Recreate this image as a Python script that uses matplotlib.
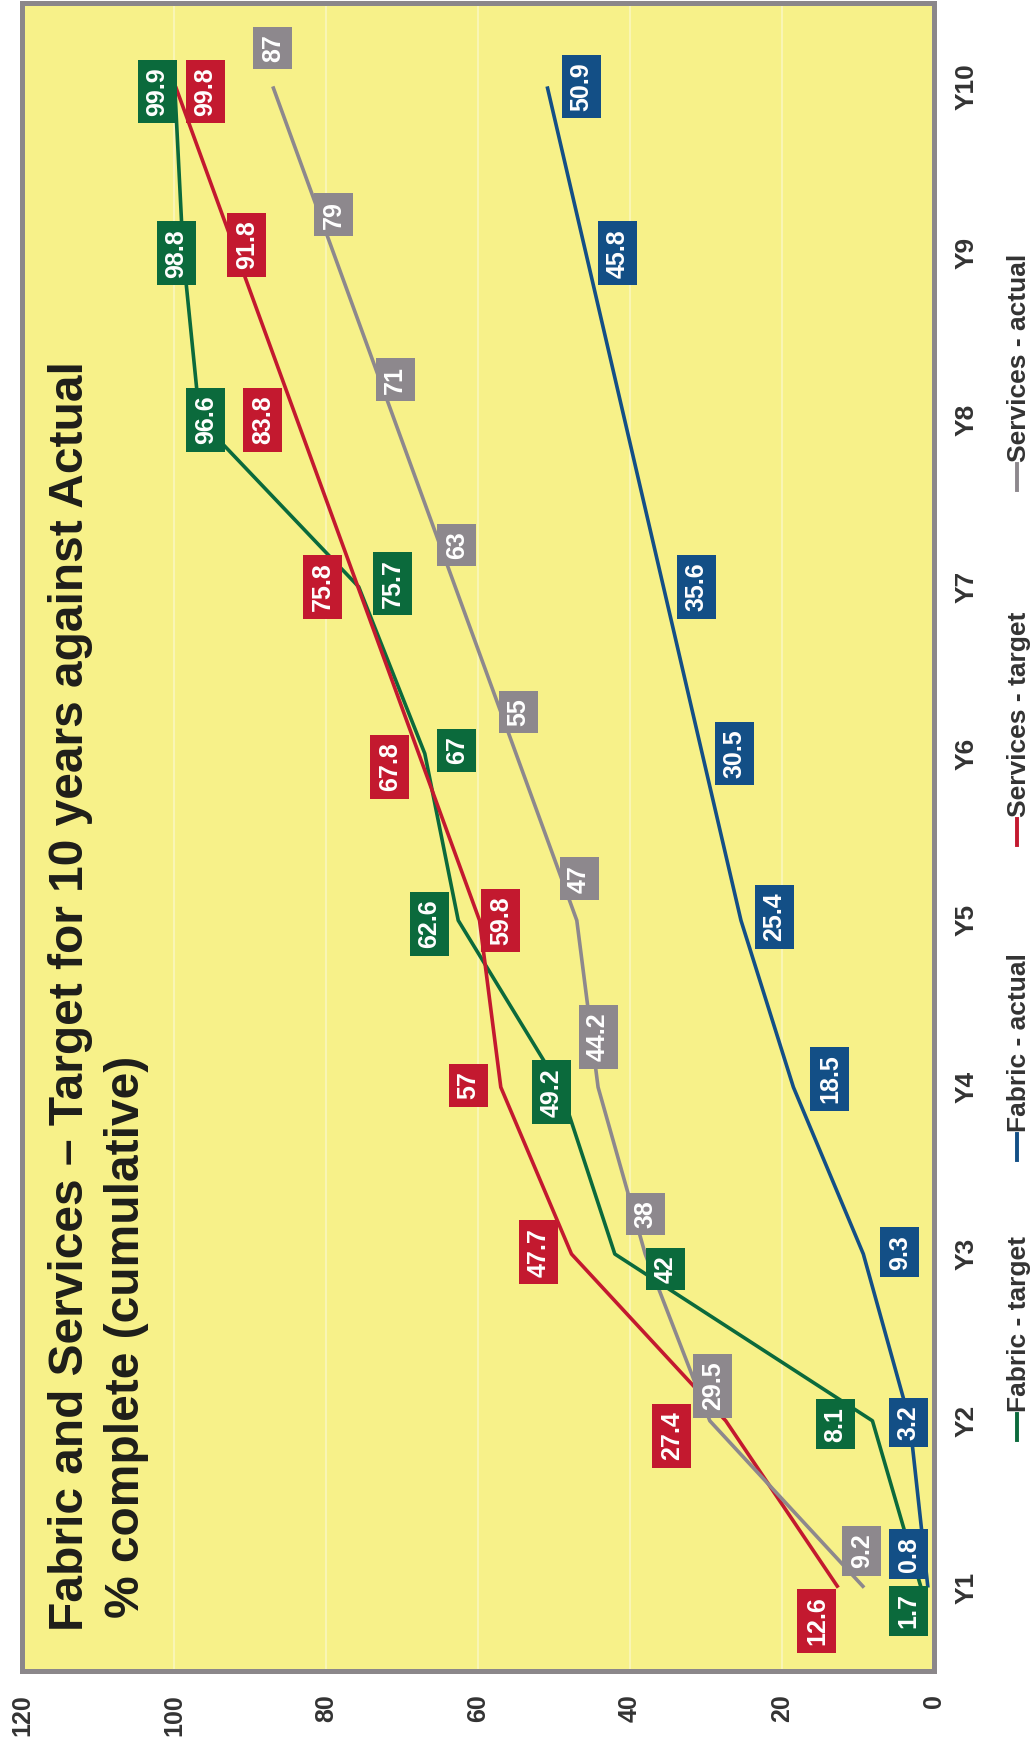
import matplotlib
matplotlib.use('Agg')
import matplotlib.pyplot as plt
from matplotlib.lines import Line2D
import numpy as np

# --- data -------------------------------------------------------------
years = ['Y1', 'Y2', 'Y3', 'Y4', 'Y5', 'Y6', 'Y7', 'Y8', 'Y9', 'Y10']

fabric_target = [1.7, 8.1, 42, 49.2, 62.6, 67, 75.7, 96.6, 98.8, 99.9]
fabric_actual = [0.8, 3.2, 9.3, 18.5, 25.4, 30.5, 35.6, 40.7, 45.8, 50.9]
services_target = [12.6, 27.4, 47.7, 57, 59.8, 67.8, 75.8, 83.8, 91.8, 99.8]
services_actual = [9.2, 29.5, 38, 44.2, 47, 55, 63, 71, 79, 87]

# which points carry a value box
fabric_actual_labelled = [1, 1, 1, 1, 1, 1, 1, 0, 1, 1]

# value box nudges: (along value axis, along year axis)
fabric_target_nudge = [(1.7, -0.14), (4.9, -0.02), (-6.7, -0.09), (1.1, -0.03), (3.8, -0.02),
                       (-4.2, 0.02), (-4.5, 0.02), (-0.8, 0), (0.9, 0), (2.3, -0.03)]
fabric_actual_nudge = [(2.5, 0.2), (0.2, -0.01), (-4.8, 0.01), (-4.8, 0.05), (-4.4, 0.02),
                       (-4.3, 0), (-4.3, 0), (0, 0), (-4.2, 0), (-4.5, 0)]
services_target_nudge = [(2.8, -0.2), (7.1, -0.09), (4.3, 0.01), (4.3, 0.01), (-2.8, 0),
                         (3.8, -0.08), (4.6, 0), (4.5, 0), (-1.4, 0.05), (-3.9, -0.03)]
services_actual_nudge = [(0.3, 0.22), (-0.4, 0.21), (0, 0.24), (0, 0.3), (-0.3, 0.25),
                         (-0.3, 0.25), (-0.2, 0.25), (-0.1, 0.24), (0, 0.23), (0, 0.23)]

GREEN = '#0b6a3c'
BLUE = '#134f86'
RED = '#c3192f'
GREY = '#8d888d'

W, H = 1036, 1746


def fx(px):
    return px / W


def fy(py):
    return 1 - py / H


fig = plt.figure(figsize=(W / 100, H / 100), dpi=100)
fig.patch.set_facecolor('white')

ax = fig.add_axes([fx(22), fy(1671), fx(934) - fx(22), fy(3) - fy(1671)])
ax.set_facecolor('#f7f189')
ax.set_xlim(120, 0)
ax.set_ylim(-0.5, 9.5)

cats = np.arange(len(years))

# faint gridlines
ax.set_xticks(np.arange(0, 121, 20))
ax.grid(axis='x', color='#f9f5b4', linewidth=1.5)
ax.set_axisbelow(True)

for sp in ax.spines.values():
    sp.set_color('#8b878a')
    sp.set_linewidth(3.6)

series = [
    (fabric_target, GREEN, fabric_target_nudge, [1] * 10),
    (fabric_actual, BLUE, fabric_actual_nudge, fabric_actual_labelled),
    (services_target, RED, services_target_nudge, [1] * 10),
    (services_actual, GREY, services_actual_nudge, [1] * 10),
]

for vals, col, nudge, show in series:
    ax.plot(vals, cats, color=col, linewidth=2.6, zorder=3, solid_capstyle='butt')

for vals, col, nudge, show in series:
    for i, v in enumerate(vals):
        if not show[i]:
            continue
        ax.text(v + nudge[i][0], i + nudge[i][1], f'{v:g}', rotation=90,
                ha='center', va='center', color='white', fontsize=18,
                fontweight='bold', family='Liberation Sans', zorder=5,
                bbox=dict(boxstyle='square,pad=0.3', fc=col, ec='none'))

# tick labels
ax.set_xticklabels([str(v) for v in range(0, 121, 20)], rotation=90,
                   fontsize=18, fontweight='bold', color='#333333',
                   family='Liberation Sans', va='top', ha='center')
ax.yaxis.tick_right()
ax.set_yticks(cats)
ax.set_yticklabels(years, rotation=90, fontsize=19, fontweight='bold',
                   color='#333333', family=['Liberation Sans Narrow', 'Liberation Sans'],
                   va='center', ha='left')
ax.tick_params(axis='x', length=0, pad=17)
ax.tick_params(axis='y', length=0, pad=15)

# title, written up the left side of the plot
title_kw = dict(rotation=90, rotation_mode='anchor', ha='left', va='baseline',
                fontsize=34.5, fontweight='bold', color='#1e1e1a', family='Liberation Sans')
fig.text(fx(83), fy(1631), 'Fabric and Services \u2013 Target for 10 years against Actual', **title_kw)
fig.text(fx(139), fy(1618), '% complete (cumulative)', **title_kw)

# legend along the right edge
legend_items = [
    ('Fabric - target', GREEN, 1440),
    ('Fabric - actual', BLUE, 1160),
    ('Services - target', RED, 845),
    ('Services - actual', GREY, 490),
]
for name, col, start in legend_items:
    fig.add_artist(Line2D([fx(1017), fx(1017)], [fy(start), fy(start - 26)],
                          color=col, linewidth=2.8))
    fig.text(fx(1026), fy(start - 28), name, rotation=90, rotation_mode='anchor',
             ha='left', va='baseline', fontsize=19, fontweight='bold', color='#333333',
             family=['Liberation Sans Narrow', 'Liberation Sans'])

fig.savefig('out.png', dpi=100, facecolor='white')
